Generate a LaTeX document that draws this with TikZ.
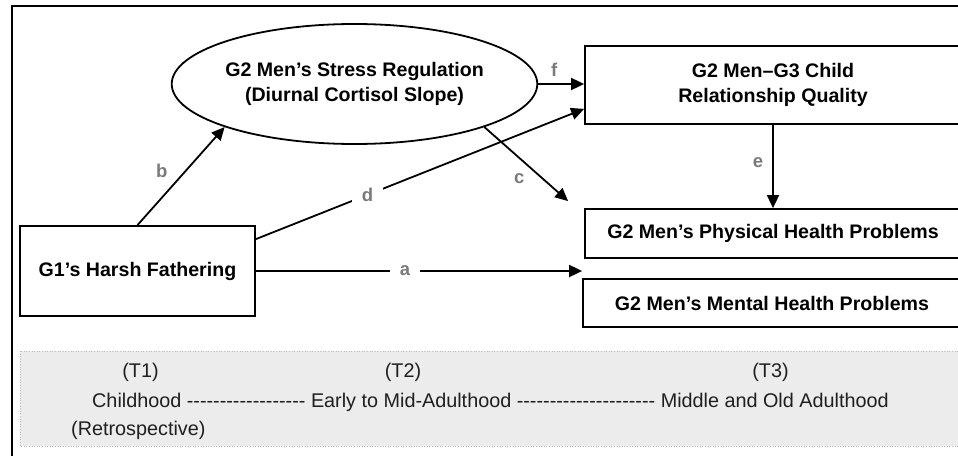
\documentclass[tikz,border=0pt]{standalone}
\usepackage{fontspec}
\setmainfont{Liberation Sans}[Ligatures=TeXOff]
\usetikzlibrary{shapes.geometric,arrows.meta,calc}

\begin{document}
\begin{tikzpicture}[x=1pt, y=1pt, font=\fontsize{19.8}{24}\selectfont,
    box/.style={draw, line width=1.8pt, align=center, inner sep=0pt,
      font=\fontsize{19.6}{24.5}\selectfont\bfseries},
    path/.style={line width=1.8pt, -{Triangle[length=13pt, width=12pt]}},
    lbl/.style={font=\fontsize{18.5}{20}\selectfont\bfseries, text=black!52, inner sep=3pt},
    band/.style={fill=gray!15, draw=gray!55, dotted, line width=.6pt}]
    \clip (0,0) rectangle (958,-455);
    \draw[line width=1.8pt] (12,-460) |- (962,-6);
    \draw[band] (20,-351) rectangle (962,-446);
    \foreach \nm/\xx/\tx in {t1/140.5/{(T1)}, t2/403/{(T2)}, t3/770.5/{(T3)}}
      {
        \node[anchor=base, inner sep=0pt, text=black!88] (\nm) at (\xx,-377) {\tx};
      }
    \node[anchor=base west, inner sep=0pt, text=black!88] (stages) at (92,-407)
      {Childhood ------------------ Early to Mid-Adulthood --------------------- Middle and Old Adulthood};
    \node[anchor=base west, inner sep=0pt, text=black!88] (retro) at (71,-435) {(Retrospective)};

    \node[box, minimum width=235pt, minimum height=90pt] (harsh) at (137.5,-271) {G1’s Harsh Fathering};
    \node[box, ellipse, minimum width=349pt, minimum height=120pt] (stress) at (354.5,-84)
      {G2 Men’s Stress Regulation\\(Diurnal Cortisol Slope)};
    \node[box, minimum width=376pt, minimum height=78pt] (rel) at (773,-85)
      {G2 Men–G3 Child\\Relationship Quality};
    \node[box, minimum width=376pt, minimum height=49pt] (phys) at (773,-233.5)
      {G2 Men’s Physical Health Problems};
    \node[box, minimum width=378pt, minimum height=48pt] (ment) at (772,-303)
      {G2 Men’s Mental Health Problems};

    \coordinate (aend) at (ment.north west |- harsh.east);
    \coordinate (cend) at ([xshift=-16pt, yshift=7pt]phys.north west);

    \draw[path] (harsh.north) -- node[lbl, pos=.55, left=14pt] (lb) {b} (stress.south west);
    \draw[path] ([yshift=-14pt]harsh.north east) -- node[lbl, pos=.34, fill=white, inner xsep=10pt] (ld) {d}
      ([yshift=16pt]rel.south west);
    \draw[path] (harsh.east) -- node[lbl, pos=.457, fill=white, inner xsep=10pt] (la) {a} (aend);
    \draw[path] (stress.east) -- node[lbl, pos=.35, above=4pt] (lf) {f} (stress.east -| rel.west);
    \draw[path] (stress.south east) -- node[lbl, pos=.55, below left=2pt] (lc) {c} (cend);
    \draw[path] (rel.south) -- node[lbl, pos=.45, left=6pt] (le) {e} (phys.north);
  \end{tikzpicture}
\end{document}
